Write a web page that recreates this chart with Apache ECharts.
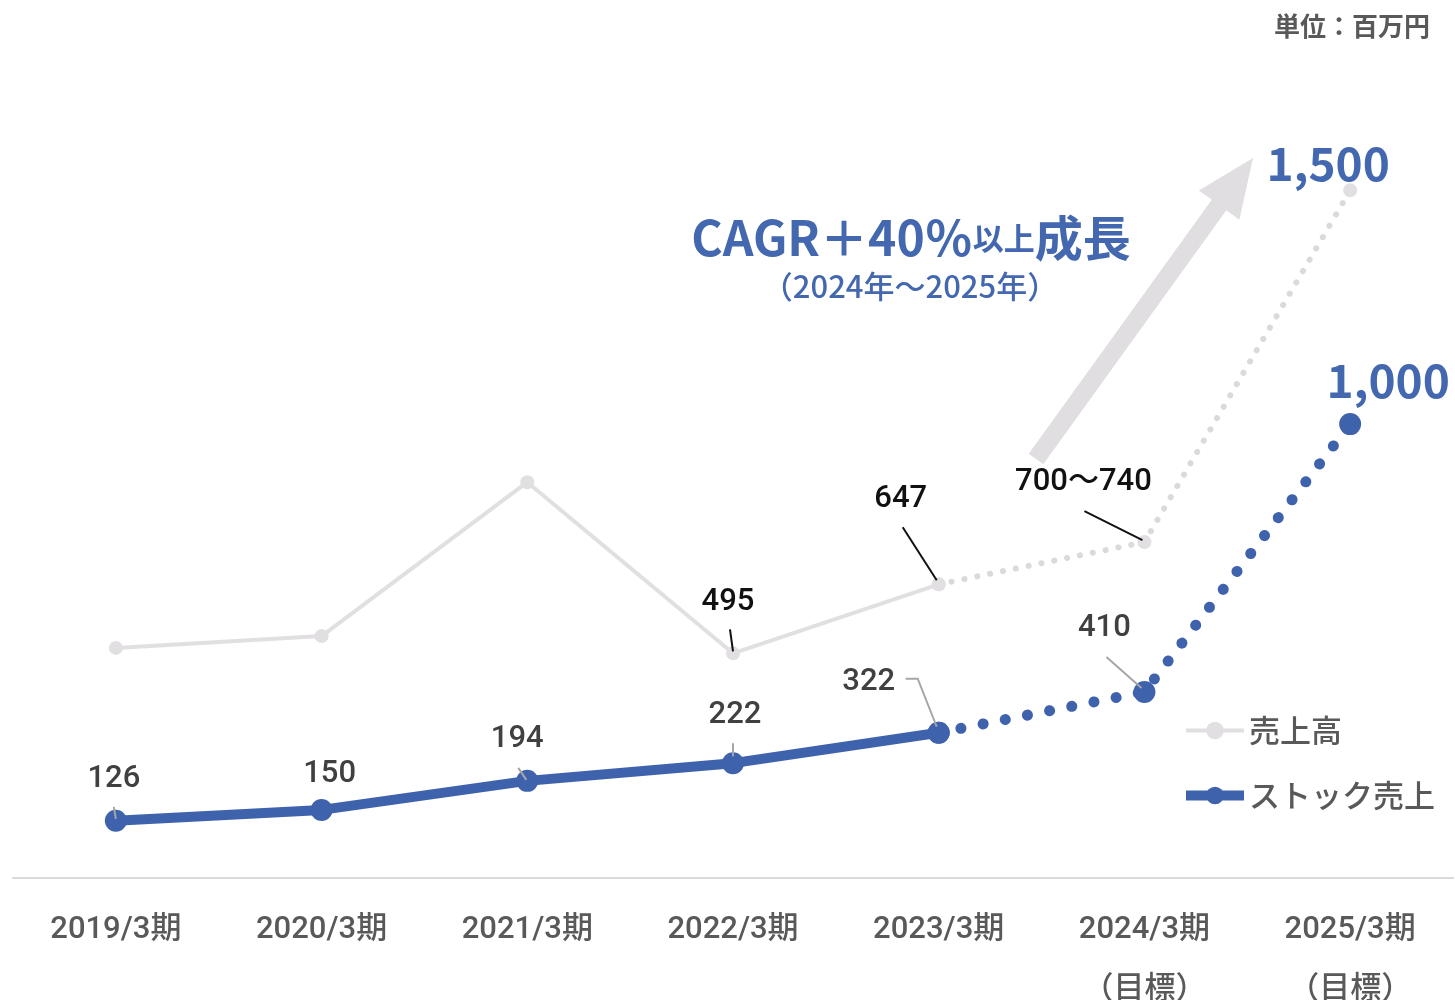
<!DOCTYPE html>
<html>
<head>
<meta charset="utf-8">
<script src="https://cdn.jsdelivr.net/npm/echarts@6/dist/echarts.min.js"></script>
<style>
  html, body { margin: 0; background: #fff; }
  #main { width: 1455px; height: 1000px; }
</style>
</head>
<body>
<div id="main"></div>
<script>
// 期
const periods = ['2019/3期', '2020/3期', '2021/3期', '2022/3期', '2023/3期', '2024/3期\n（目標）', '2025/3期\n（目標）']
// 売上高（実績／目標）
const salesActual = [507, 533, 872, 495, 647, null, null]
const salesTarget = [null, null, null, null, 647, 740, 1515]
const salesLabels = ['', '', '', '495', '647', '700〜740', '1,500']
// ストック売上（実績／目標）
const stockActual = [126, 150, 214, 253, 320, null, null]
const stockTarget = [null, null, null, null, 320, 410, 1000]
const stockLabels = ['126', '150', '194', '222', '322', '410', '1,000']

const BLUE = '#3f62ad'
const GRAY = '#e2dfe2'
const FONT = '"Noto Sans CJK JP", "Noto Sans", sans-serif'
const NUM_FONT = 'Roboto, "Noto Sans CJK JP", sans-serif'

// ラベル位置（点からのずれ）
const salesOffset = [[0, 0], [0, 0], [0, 0], [-5, -51], [-38, -85], [-61, -60], [-22, -27]]
const stockOffset = [[-2, -42], [8, -36], [-10, -42], [2, -48], [-70, -51], [-40, -64], [38, -44]]
// 引き出し線（点からのずれ）
const salesLeaders = { 3: [[-3, -24], [0, -2]], 4: [[-36, -57], [-2, -4]], 5: [[-60, -31], [-2, -2]] }
const stockLeaders = {
  0: [[-2, -14], [0, -2]],
  2: [[-9, -13], [-1, -1]],
  3: [[0, -20], [0, -7]],
  4: [[-33, -54], [-21, -54], [-2, -6]],
  5: [[-38, -35], [-3, -4]]
}
const bigLabel = { fontSize: 46, fontWeight: 'bold', color: '#4468b0', fontFamily: FONT }

function buildData(values, labels, shown, bigIndex) {
  return values.map(function (v, i) {
    if (v === null) return null
    const show = shown.indexOf(i) >= 0 && labels[i] !== ''
    const item = { value: v, label: { show: show, formatter: labels[i] } }
    if (i === bigIndex) Object.assign(item.label, bigLabel)
    return item
  })
}

function layoutFor(offsets) {
  return function (p) {
    const o = offsets[p.dataIndex]
    const r = p.rect
    return { x: r.x + r.width / 2 + o[0], y: r.y + r.height / 2 + o[1], align: 'center', verticalAlign: 'middle' }
  }
}

// 矢印
function arrowPoints(start, tip, shaftHalf, headHalf, headLen) {
  const dx = tip[0] - start[0], dy = tip[1] - start[1]
  const len = Math.sqrt(dx * dx + dy * dy)
  const ux = dx / len, uy = dy / len
  const px = -uy, py = ux
  const bx = tip[0] - ux * headLen, by = tip[1] - uy * headLen
  return [
    [start[0] + px * shaftHalf, start[1] + py * shaftHalf],
    [bx + px * shaftHalf, by + py * shaftHalf],
    [bx + px * headHalf, by + py * headHalf],
    tip,
    [bx - px * headHalf, by - py * headHalf],
    [bx - px * shaftHalf, by - py * shaftHalf],
    [start[0] - px * shaftHalf, start[1] - py * shaftHalf]
  ]
}

const chart = echarts.init(document.getElementById('main'))
const labelText = { fontSize: 31, fontWeight: 500, fontFamily: NUM_FONT }

const graphics = [
  {
    type: 'polygon',
    z: 0,
    shape: { points: arrowPoints([1036, 459], [1253, 158], 9, 25, 58) },
    style: { fill: '#e1dee1' }
  },
  {
    type: 'text',
    x: 911,
    y: 238,
    style: {
      text: '{a|CAGR＋40％}{b|以上}{a|成長}',
      align: 'center',
      verticalAlign: 'middle',
      rich: {
        a: { fontSize: 48, fontWeight: 'bold', fill: '#4468b0', fontFamily: FONT },
        b: { fontSize: 31, fontWeight: 'bold', fill: '#4468b0', fontFamily: FONT }
      }
    }
  },
  {
    type: 'text',
    x: 910,
    y: 286,
    style: {
      text: '（2024年〜2025年）',
      align: 'center',
      verticalAlign: 'middle',
      fontSize: 31,
      fontWeight: 500,
      fill: '#4468b0',
      fontFamily: FONT
    }
  },
  {
    type: 'text',
    x: 1430,
    y: 26,
    style: {
      text: '単位：百万円',
      align: 'right',
      verticalAlign: 'middle',
      fontSize: 26,
      fontWeight: 'bold',
      fill: '#595959',
      fontFamily: FONT
    }
  }
]

chart.setOption({
  animation: false,
  textStyle: { fontFamily: FONT },
  grid: { left: 13, right: 2, top: 61, bottom: 122, outerBoundsMode: 'none' },
  legend: {
    orient: 'vertical',
    left: 1181,
    top: 715,
    padding: 0,
    itemGap: 34,
    itemWidth: 58,
    itemHeight: 22,
    data: ['売上高', 'ストック売上'],
    lineStyle: { width: 'inherit' },
    textStyle: { fontSize: 31, color: '#595959', fontWeight: 500, fontFamily: FONT }
  },
  graphic: graphics,
  xAxis: {
    type: 'category',
    data: periods,
    axisTick: { show: false },
    axisLine: { lineStyle: { color: '#d9d9d9', width: 2 } },
    axisLabel: { fontSize: 31, color: '#595959', fontWeight: 500, lineHeight: 60, margin: 22, fontFamily: NUM_FONT, interval: 0 }
  },
  yAxis: { type: 'value', min: 0, max: 1800, show: false },
  series: [
    {
      name: '売上高',
      type: 'line',
      data: buildData(salesActual, salesLabels, [3, 4], -1),
      symbol: 'circle',
      symbolSize: 14,
      itemStyle: { color: GRAY },
      lineStyle: { color: GRAY, width: 4 },
      label: Object.assign({ color: '#111' }, labelText),
      labelLayout: layoutFor(salesOffset)
    },
    {
      name: '売上高',
      type: 'line',
      data: buildData(salesTarget, salesLabels, [5, 6], 6),
      symbol: 'circle',
      symbolSize: 14,
      itemStyle: { color: GRAY },
      lineStyle: { color: '#dcd9dc', width: 6, type: [0.1, 13], cap: 'round' },
      label: Object.assign({ color: '#111' }, labelText),
      labelLayout: layoutFor(salesOffset)
    },
    {
      name: 'ストック売上',
      type: 'line',
      data: buildData(stockActual, stockLabels, [0, 1, 2, 3, 4], -1),
      symbol: 'circle',
      symbolSize: 22,
      itemStyle: { color: BLUE },
      lineStyle: { color: BLUE, width: 10 },
      label: Object.assign({ color: '#404040' }, labelText),
      labelLayout: layoutFor(stockOffset)
    },
    {
      name: 'ストック売上',
      type: 'line',
      data: buildData(stockTarget, stockLabels, [5, 6], 6),
      symbol: 'circle',
      symbolSize: 22,
      itemStyle: { color: BLUE },
      lineStyle: { color: BLUE, width: 11, type: [0.1, 22.5], cap: 'round' },
      label: Object.assign({ color: '#404040' }, labelText),
      labelLayout: layoutFor(stockOffset)
    }
  ]
})

// 引き出し線は点の位置から描く
function addLeaders(seriesIndex, values, leaders, color) {
  Object.keys(leaders).forEach(function (k) {
    const i = +k
    const c = chart.convertToPixel({ seriesIndex: seriesIndex }, [i, values[i]])
    graphics.push({
      type: 'polyline',
      z: 100,
      shape: { points: leaders[k].map(function (d) { return [c[0] + d[0], c[1] + d[1]] }) },
      style: { stroke: color, lineWidth: 2, fill: null }
    })
  })
}
addLeaders(0, salesActual.map(function (v, i) { return v === null ? salesTarget[i] : v }), salesLeaders, '#111')
addLeaders(2, stockActual.map(function (v, i) { return v === null ? stockTarget[i] : v }), stockLeaders, '#a6a6a6')
chart.setOption({ graphic: graphics })
</script>
</body>
</html>
